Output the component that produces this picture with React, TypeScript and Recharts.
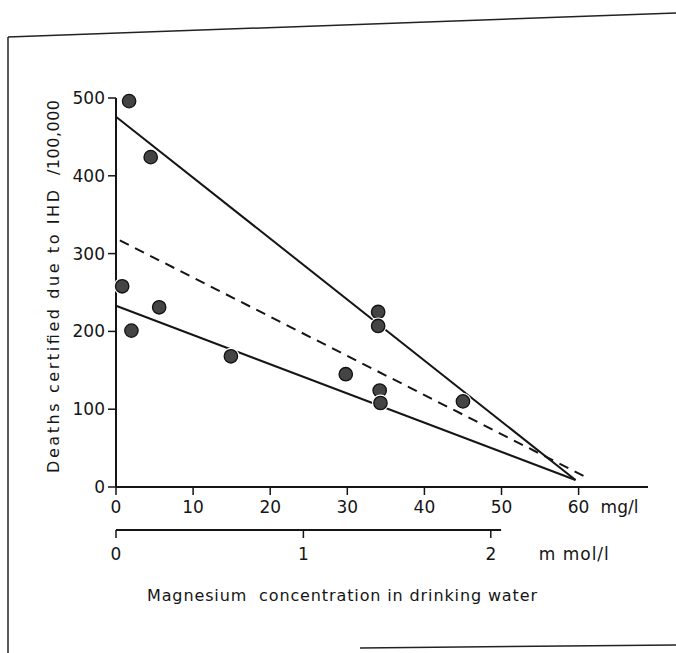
import React from 'react';
import { ComposedChart, Scatter, Line, XAxis, YAxis } from 'recharts';

// magnesium (mg/l) and deaths certified due to IHD per 100,000, one per town
const magnesiumMg = [1.7, 4.5, 0.8, 2.0, 5.6, 14.9, 29.8, 34.0, 34.0, 34.2, 34.3, 45.0];
const deathRates = [496, 424, 258, 201, 231, 168, 145, 225, 207, 124, 108, 110];

// fitted lines, read as end points
const upperLineMg = [0, 59.6];
const upperLineDeaths = [476, 9];
const middleLineMg = [0.5, 60.9];
const middleLineDeaths = [317, 13];
const lowerLineMg = [0, 59.6];
const lowerLineDeaths = [233, 9];

const mgTicks = [0, 10, 20, 30, 40, 50, 60];
const mmolTicks = [0, 1, 2];
const deathTicks = [0, 100, 200, 300, 400, 500];

const MG_PER_MMOL = 24.305;
const MG_MAX = 69;
const MMOL_END = 2.055;

const W = 676;
const H = 653;
const Y_AXIS_W = 116;
const RIGHT = 28;
const PLOT_W = W - Y_AXIS_W - RIGHT;
const PX_PER_MG = PLOT_W / MG_MAX;
const PX_PER_MMOL = MG_PER_MMOL * PX_PER_MG;
const MMOL_CHART_W = Y_AXIS_W + MMOL_END * PX_PER_MMOL;

const font = "'DejaVu Sans', sans-serif";
const ink = '#151515';
const tickSize = 17;

const points = magnesiumMg.map((x, i) => ({ x, y: deathRates[i] }));
const toLine = (xs: number[], ys: number[]) => xs.map((x, i) => ({ x, y: ys[i] }));

const Dot = (props: any) => {
  const { cx, cy } = props;
  return (
    <g>
      <circle cx={cx} cy={cy} r={8.5} fill="#fff" />
      <circle cx={cx} cy={cy} r={6.7} fill="#444" stroke="#111" strokeWidth={1.3} />
    </g>
  );
};

const MgTick = (props: any) => {
  const { x, y, payload } = props;
  return (
    <g>
      <text x={x} y={y} dy="0.71em" textAnchor="middle" fill={ink} fontSize={tickSize} fontFamily={font}>
        {payload.value}
      </text>
      {payload.value === 60 && (
        <text x={x + 22} y={y} dy="0.71em" textAnchor="start" fill={ink} fontSize={tickSize} fontFamily={font}>
          mg/l
        </text>
      )}
    </g>
  );
};

const MmolTick = (props: any) => {
  const { x, y, payload } = props;
  return (
    <text x={x} y={y} dy="0.71em" textAnchor="middle" fill={ink} fontSize={tickSize} fontFamily={font}>
      {payload.value}
    </text>
  );
};

export default function App() {
  return (
    <div style={{ position: 'absolute', left: 0, top: 0, width: W, height: H, background: '#fff' }}>
      <ComposedChart
        width={W}
        height={H}
        margin={{ top: 98, right: RIGHT, bottom: 0, left: 0 }}
        style={{ position: 'absolute', left: 0, top: 0 }}
      >
        <XAxis
          type="number"
          dataKey="x"
          domain={[0, MG_MAX]}
          ticks={mgTicks}
          height={166}
          tickSize={8}
          tickMargin={6}
          tick={<MgTick />}
          axisLine={{ stroke: ink, strokeWidth: 2 }}
          tickLine={{ stroke: ink, strokeWidth: 1.5 }}
        />
        <YAxis
          type="number"
          dataKey="y"
          domain={[0, 500]}
          ticks={deathTicks}
          width={Y_AXIS_W}
          tickSize={8}
          tickMargin={3}
          tick={{ fill: ink, fontSize: tickSize, fontFamily: font }}
          axisLine={{ stroke: ink, strokeWidth: 2 }}
          tickLine={{ stroke: ink, strokeWidth: 1.5 }}
        />
        <Line data={toLine(upperLineMg, upperLineDeaths)} dataKey="y" stroke={ink} strokeWidth={2} dot={false} isAnimationActive={false} />
        <Line data={toLine(middleLineMg, middleLineDeaths)} dataKey="y" stroke={ink} strokeWidth={2} strokeDasharray="10 7" dot={false} isAnimationActive={false} />
        <Line data={toLine(lowerLineMg, lowerLineDeaths)} dataKey="y" stroke={ink} strokeWidth={2} dot={false} isAnimationActive={false} />
        <Scatter data={points} dataKey="y" shape={<Dot />} isAnimationActive={false} />
      </ComposedChart>

      <ComposedChart
        width={MMOL_CHART_W + 10}
        height={60}
        data={mmolTicks.map((x) => ({ x }))}
        margin={{ top: 0, right: 10, bottom: 0, left: Y_AXIS_W }}
        style={{ position: 'absolute', left: 0, top: 520 }}
      >
        <XAxis
          type="number"
          dataKey="x"
          domain={[0, MMOL_END]}
          ticks={mmolTicks}
          height={50}
          tickSize={8}
          tickMargin={10}
          tick={<MmolTick />}
          axisLine={{ stroke: ink, strokeWidth: 2 }}
          tickLine={{ stroke: ink, strokeWidth: 1.5 }}
        />
      </ComposedChart>

      <svg width={W} height={H} style={{ position: 'absolute', left: 0, top: 0, pointerEvents: 'none' }}>
        <line x1={8} y1={37} x2={676} y2={13} stroke="#222" strokeWidth={1.5} />
        <line x1={8} y1={37} x2={8} y2={653} stroke="#222" strokeWidth={1.5} />
        <line x1={360} y1={648} x2={676} y2={645} stroke="#222" strokeWidth={1.5} />
        <g fill={ink} fontFamily={font} fontSize={16}>
          <text x={Y_AXIS_W + 2 * PX_PER_MMOL + 48} y={554} dominantBaseline="central" fontSize={tickSize} textLength={70} lengthAdjust="spacing">
            m mol/l
          </text>
          <text x={53} y={473} transform="rotate(-90, 53, 473)" dominantBaseline="central" textLength={283} lengthAdjust="spacing">
            Deaths certified due to IHD
          </text>
          <text x={53} y={175} transform="rotate(-90, 53, 175)" dominantBaseline="central" textLength={75} lengthAdjust="spacing">
            /100,000
          </text>
          <text x={147} y={601} textLength={390} lengthAdjust="spacing" style={{ whiteSpace: 'pre' }}>
            Magnesium  concentration in drinking water
          </text>
        </g>
      </svg>
    </div>
  );
}
